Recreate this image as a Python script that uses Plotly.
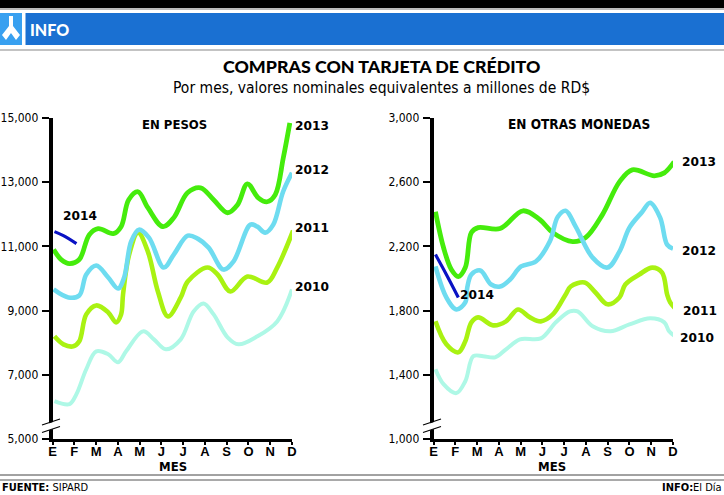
import plotly.graph_objects as go

W, H = 724, 495
MONTHS = ["E", "F", "M", "A", "M", "J", "J", "A", "S", "O", "N", "D"]
COLORS = {"2010": "#aef8e6", "2011": "#a9f212", "2012": "#6edcf0", "2013": "#45ec0c", "2014": "#0a12c4"}
WIDTHS = {"2010": 4, "2011": 4.6, "2012": 4.6, "2013": 4.8, "2014": 3.2}
ORDER = ["2010", "2011", "2013", "2012", "2014"]

# --- En pesos ---
p_2013_m = [.05,.4,.78,1.23,1.69,2.1,2.79,3.15,3.5,3.93,4.38,5.07,5.57,6.2,6.8,7.4,8.04,8.5,8.95,9.45,9.86,10.23,10.6,10.9]
p_2013_v = [10900,10590,10465,10590,11366,11553,11397,11615,12453,12702,12205,11615,11894,12670,12826,12453,12049,12298,12950,12515,12391,12608,13758,14845]
p_2012_m = [.05,.73,1.23,1.55,2.01,2.56,3.01,3.29,3.61,3.97,4.43,5.11,5.57,6.21,6.67,7.17,7.85,8.31,9.09,9.41,9.77,10.14,10.59,11.0]
p_2012_v = [9658,9409,9471,10124,10403,10030,9689,10030,11148,11521,11273,10341,10745,11335,11242,10962,10279,10527,11677,11615,11428,11677,12702,13292]
p_2011_m = [.09,.5,.96,1.23,1.55,2.01,2.56,2.92,3.15,3.24,3.52,3.93,4.38,4.84,5.3,5.89,6.21,7.12,7.58,8.17,8.95,9.86,10.32,11.05]
p_2011_v = [8198,7949,7887,8043,8881,9161,8943,8633,8881,9502,10745,11428,10838,9596,8819,9409,9906,10341,10124,9596,10062,9875,10341,11490]
p_2010_m = [.09,.78,1.1,1.55,2.01,2.56,3.01,3.38,4.16,4.66,5.21,5.89,6.48,6.94,7.4,8.04,8.54,9.41,10.32,11.0]
p_2010_v = [6179,6086,6397,7173,7732,7639,7390,7732,8353,8105,7794,8105,8974,9223,8881,8167,7949,8198,8664,9658]
p_2014_m = [.09,.5,1.1]
p_2014_v = [11460,11335,11087]

# --- En otras monedas ---
o_2013_m = [.09,.46,.82,1.14,1.46,1.74,2.05,3.06,4.11,4.89,5.48,6.39,6.99,7.76,8.54,9.13,10.14,10.6,11.05]
o_2013_v = [2416,2193,2056,2012,2068,2286,2317,2311,2422,2366,2286,2230,2255,2398,2602,2677,2640,2658,2727]
o_2012_m = [.09,.59,1.05,1.46,1.55,1.74,2.15,2.65,3.06,3.52,4.02,4.7,5.34,5.71,6.07,6.53,7.31,7.99,8.54,9.0,9.59,9.95,10.41,10.73,11.0]
o_2012_v = [2075,1882,1807,1851,1944,2025,2050,1963,1950,1994,2075,2106,2230,2385,2422,2323,2130,2068,2168,2317,2416,2472,2379,2211,2186]
o_2011_m = [.09,.59,1.14,1.46,1.74,2.05,2.74,3.33,3.88,4.43,4.93,5.48,6.07,6.3,6.94,7.44,7.99,8.54,8.81,9.45,10.05,10.5,10.73,10.87,11.1]
o_2011_v = [1733,1590,1540,1609,1727,1758,1708,1733,1807,1758,1733,1776,1901,1950,1975,1913,1839,1882,1963,2025,2068,2037,1901,1851,1814]
o_2010_m = [.09,.46,1.05,1.46,1.83,2.28,2.83,3.33,3.97,4.93,5.62,6.26,6.62,7.31,8.13,9.0,9.95,10.6,10.82,11.1]
o_2010_v = [1435,1342,1286,1360,1516,1516,1509,1559,1621,1627,1727,1795,1795,1702,1671,1714,1752,1727,1671,1640]
o_2014_m = [.09,.59,1.14]
o_2014_v = [2149,2025,1882]

PESOS = {"2010": (p_2010_m, p_2010_v), "2011": (p_2011_m, p_2011_v), "2012": (p_2012_m, p_2012_v),
         "2013": (p_2013_m, p_2013_v), "2014": (p_2014_m, p_2014_v)}
OTRAS = {"2010": (o_2010_m, o_2010_v), "2011": (o_2011_m, o_2011_v), "2012": (o_2012_m, o_2012_v),
         "2013": (o_2013_m, o_2013_v), "2014": (o_2014_m, o_2014_v)}

P_TICKS = [5000, 7000, 9000, 11000, 13000, 15000]
O_TICKS = [1000, 1400, 1800, 2200, 2600, 3000]

NARROW = "'DejaVu Sans Condensed', Lato, sans-serif"
fx = lambda x: x / W
fy = lambda y: 1 - y / H

fig = go.Figure()
for name in ORDER:
    for data, xa, ya in ((PESOS, "x", "y"), (OTRAS, "x2", "y2")):
        m, v = data[name]
        fig.add_trace(go.Scatter(x=m, y=v, xaxis=xa, yaxis=ya, mode="lines", name=name, showlegend=False,
                                 cliponaxis=False,
                                 line=dict(color=COLORS[name], width=WIDTHS[name], shape="spline", smoothing=1)))

axis_x = dict(range=[0, 11], tickmode="array", tickvals=list(range(12)), ticktext=MONTHS, ticks="outside",
              ticklen=3, tickwidth=1.5, tickcolor="black", showline=True, linecolor="black", linewidth=2.5,
              showgrid=False, zeroline=False, automargin=False, ticklabelstandoff=-4,
              tickfont=dict(family="Liberation Sans", size=13, color="black", weight="bold"))
axis_y = dict(tickmode="array", ticks="outside", ticklen=7, tickwidth=1.5, tickcolor="black",
              showline=True, linecolor="black", linewidth=3.5, showgrid=False, zeroline=False, automargin=False,
              tickformat=",d", ticklabelstandoff=1, tickfont=dict(family=NARROW, size=12, color="black"))
ydom = [fy(439), fy(118)]
fig.update_layout(
    template="none", showlegend=False,
    width=W, height=H, autosize=False, margin=dict(l=0, r=0, t=0, b=0, pad=0),
    paper_bgcolor="white", plot_bgcolor="white",
    xaxis=dict(axis_x, domain=[fx(52.5), fx(292)], anchor="y"),
    xaxis2=dict(axis_x, domain=[fx(433.5), fx(673)], anchor="y2"),
    yaxis=dict(axis_y, domain=ydom, range=[5000, 15000], tickvals=P_TICKS, anchor="x"),
    yaxis2=dict(axis_y, domain=ydom, range=[1000, 3000], tickvals=O_TICKS, anchor="x2"),
)

def rect(x0, y0, x1, y1, color):
    return dict(type="rect", xref="paper", yref="paper", x0=fx(x0), x1=fx(x1), y0=fy(y0), y1=fy(y1),
                fillcolor=color, line_width=0, layer="above")

def hline(y, color, w):
    return dict(type="line", xref="paper", yref="paper", x0=0, x1=1, y0=fy(y), y1=fy(y),
                line=dict(color=color, width=w), layer="above")

def poly(pts, color):
    d = "M" + " L".join(f"{fx(a):.5f},{fy(b):.5f}" for a, b in pts) + " Z"
    return dict(type="path", path=d, xref="paper", yref="paper", fillcolor=color, line_width=0, layer="above")

shapes = [
    rect(0, 0, W, 8, "black"), hline(9, "#777777", 1),
    rect(0, 13, 22, 45, "#38a0f0"), rect(25.5, 13, W, 45, "#1a70d2"),
    hline(50, "#888888", 1.2), hline(475, "#444444", 1), hline(480, "#555555", 1),
    poly([(9, 16), (13, 16), (13, 26), (20, 35), (16, 40), (11, 33), (6, 40), (2, 35), (9, 26)], "white"),
]
for ax in (51, 432):
    shapes.append(poly([(ax - 4, 424), (ax + 5, 421), (ax + 5, 428), (ax - 4, 431)], "white"))
    for dy in (0, 7.5):
        shapes.append(dict(type="line", xref="paper", yref="paper", x0=fx(ax - 9), y0=fy(425 + dy),
                           x1=fx(ax + 9), y1=fy(419 + dy), line=dict(color="black", width=1.3), layer="above"))
fig.update_layout(shapes=shapes)

def text(x, y, s, size, anchor="center", family=NARROW, color="black", weight=None):
    font = dict(family=family, size=size, color=color)
    if weight:
        font["weight"] = weight
    fig.add_annotation(x=fx(x), y=fy(y), xref="paper", yref="paper", text=s, showarrow=False, xanchor=anchor,
                       yanchor="middle", font=font)

text(28, 29, "INFO", 16, "left", family="Lato", color="white", weight=900)
text(381, 66, "COMPRAS CON TARJETA DE CRÉDITO", 17.8, family="Lato", weight=900)
text(381, 88, "Por mes, valores nominales equivalentes a millones de RD$", 15.5)
text(174, 124, "<b>EN PESOS</b>", 13)
text(579, 124, "<b>EN OTRAS MONEDAS</b>", 13.5)
text(173, 466, "<b>MES</b>", 13)
text(552, 466, "<b>MES</b>", 13)
text(0, 487.5, "<b>FUENTE:</b> SIPARD", 11, "left")
text(724, 487.5, "<b>INFO:</b>El Día", 11, "right")
for s, x, y in (("2013", 293, 126), ("2012", 293, 170), ("2011", 293, 228), ("2010", 293, 287), ("2014", 61, 216),
                ("2013", 680, 162), ("2012", 680, 251), ("2011", 681, 311), ("2010", 678, 338), ("2014", 458, 295)):
    text(x, y, f"<b>{s}</b>", 12.2, "left", family="DejaVu Sans")

fig.write_html("out.html", config={"displayModeBar": False},
               post_script="document.body.style.margin='0';")
